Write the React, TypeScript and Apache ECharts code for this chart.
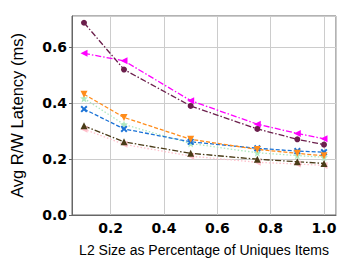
import React, { useEffect, useRef } from "react";
import * as echarts from "echarts";

const xValues = [0.1, 0.25, 0.5, 0.75, 0.9, 1.0];
const maroonSeries = [0.686, 0.519, 0.389, 0.307, 0.27, 0.251];
const magentaSeries = [0.577, 0.55, 0.408, 0.324, 0.291, 0.272];
const orangeSeries = [0.431, 0.348, 0.27, 0.234, 0.22, 0.211];
const mintSeries = [0.416, 0.323, 0.255, 0.222, 0.212, 0.206];
const blueSeries = [0.378, 0.307, 0.261, 0.238, 0.228, 0.224];
const oliveSeries = [0.318, 0.261, 0.22, 0.199, 0.19, 0.184];
const pinkSeries = [0.306, 0.252, 0.21, 0.188, 0.182, 0.177];

const xTitle = "L2 Size as Percentage of Uniques Items";
const yTitle = "Avg R/W Latency (ms)";

const xPath =
  "path://M2,0 L5,3 L8,0 L10,2 L7,5 L10,8 L8,10 L5,7 L2,10 L0,8 L3,5 L0,2 Z";
const starPath =
  "path://M5,0 L6.2,3.4 L10,3.6 L7,5.9 L8.1,9.5 L5,7.4 L1.9,9.5 L3,5.9 L0,3.6 L3.8,3.4 Z";

function makeSeries(
  name: string,
  values: number[],
  color: string,
  symbol: string,
  rotate: number,
  dash: any,
  size: number
) {
  return {
    name,
    type: "line",
    data: xValues.map((x, i) => [x, values[i]]),
    symbol,
    symbolRotate: rotate,
    symbolSize: size,
    showAllSymbol: true,
    itemStyle: { color },
    lineStyle: { color, width: 1.3, type: dash },
    z: 3,
  };
}

export default function App() {
  const ref = useRef<HTMLDivElement>(null);
  useEffect(() => {
    if (!ref.current) return;
    const chart = echarts.init(ref.current, null, { renderer: "svg" });
    const dashDot = [6, 2, 1.5, 2];
    const dashed = [4, 2];
    const dotted = [1.5, 2];
    chart.setOption({
      animation: false,
      grid: {
        left: 54,
        right: 19,
        top: 16,
        bottom: 60,
        show: true,
        borderColor: "#666",
        borderWidth: 1,
      },
      xAxis: {
        type: "value",
        min: 0.055,
        max: 1.045,
        splitNumber: 5,
        name: xTitle,
        nameLocation: "middle",
        nameGap: 28,
        nameTextStyle: { fontFamily: "Liberation Sans", fontSize: 14, color: "#000" },
        axisLine: { show: true, onZero: false, lineStyle: { color: "#666" } },
        axisTick: { show: false },
        axisLabel: {
          showMinLabel: false,
          showMaxLabel: false,
          fontFamily: "DejaVu Sans",
          fontWeight: "bold",
          fontSize: 14,
          color: "#000",
          margin: 6,
          formatter: (v: number) => v.toFixed(1),
        },
        splitLine: { show: true, lineStyle: { color: "#ccc", width: 1 } },
      },
      yAxis: {
        type: "value",
        min: 0,
        max: 0.71,
        interval: 0.2,
        name: yTitle,
        nameLocation: "middle",
        nameGap: 47,
        nameTextStyle: { fontFamily: "Liberation Sans", fontSize: 16.5, color: "#000" },
        axisLine: { show: true, lineStyle: { color: "#666" } },
        axisTick: { show: true, length: 3, lineStyle: { color: "#666" } },
        axisLabel: {
          showMaxLabel: false,
          fontFamily: "DejaVu Sans",
          fontWeight: "bold",
          fontSize: 14,
          color: "#000",
          margin: 5,
          formatter: (v: number) => v.toFixed(1),
        },
        splitLine: { show: true, lineStyle: { color: "#ccc", width: 1 } },
      },
      series: [
        makeSeries("pink", pinkSeries, "#ffc0cb", "triangle", 90, dotted, 7),
        makeSeries("olive", oliveSeries, "#4a3b17", "triangle", 0, dashDot, 7),
        makeSeries("mint", mintSeries, "#aee8bf", starPath, 0, dotted, 8),
        makeSeries("blue", blueSeries, "#1a72d6", xPath, 0, dashed, 7),
        makeSeries("orange", orangeSeries, "#ff8c1a", "triangle", 180, dashed, 7),
        makeSeries("magenta", magentaSeries, "#ff00ff", "triangle", 90, dashDot, 7),
        makeSeries("maroon", maroonSeries, "#6b1f4c", "circle", 0, dashDot, 6),
      ],
    });
    return () => chart.dispose();
  }, []);
  return <div ref={ref} style={{ width: 355, height: 275, margin: -8 }} />;
}
